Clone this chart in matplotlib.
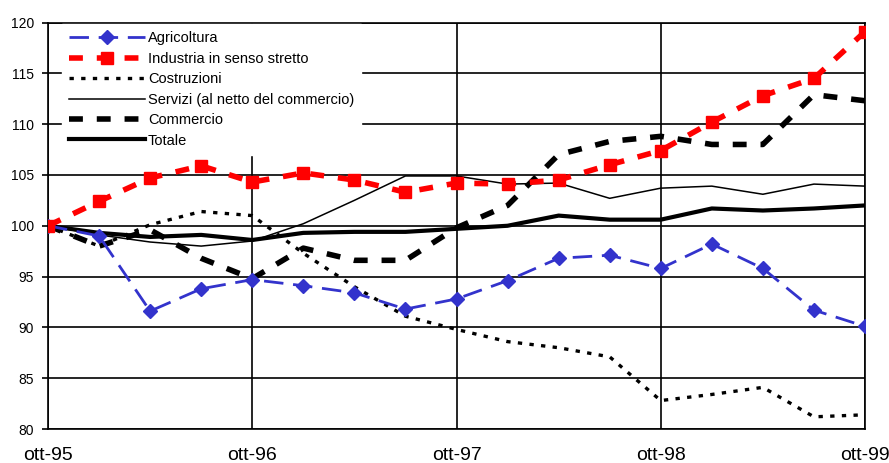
import matplotlib
matplotlib.use("Agg")
import matplotlib.pyplot as plt

plt.rcParams["font.family"] = ["Liberation Sans", "DejaVu Sans"]

# quarterly index, Oct 1995 = 100
periodi = ["ott-95", "gen-96", "apr-96", "lug-96",
           "ott-96", "gen-97", "apr-97", "lug-97",
           "ott-97", "gen-98", "apr-98", "lug-98",
           "ott-98", "gen-99", "apr-99", "lug-99", "ott-99"]

agricoltura = [100.0, 99.0, 91.6, 93.8, 94.7, 94.1, 93.4, 91.8,
               92.8, 94.6, 96.8, 97.1, 95.8, 98.2, 95.8, 91.7, 90.1]
industria = [100.0, 102.4, 104.7, 105.9, 104.3, 105.2, 104.5, 103.3,
             104.2, 104.1, 104.5, 106.0, 107.4, 110.2, 112.8, 114.5, 119.1]
costruzioni = [100.0, 98.0, 100.1, 101.4, 101.0, 97.3, 94.0, 91.1,
               89.8, 88.6, 88.0, 87.1, 82.8, 83.4, 84.1, 81.2, 81.4]
servizi = [100.0, 99.1, 98.4, 98.0, 98.5, 100.2, 102.5, 104.9,
           104.9, 104.1, 104.2, 102.7, 103.7, 103.9, 103.1, 104.1, 103.9]
commercio = [100.0, 98.0, 99.6, 96.8, 94.8, 97.8, 96.6, 96.6,
             99.8, 102.0, 107.0, 108.3, 108.8, 108.0, 108.0, 112.9, 112.3]
totale = [100.0, 99.3, 98.9, 99.1, 98.6, 99.3, 99.4, 99.4,
          99.7, 100.0, 101.0, 100.6, 100.6, 101.7, 101.5, 101.7, 102.0]

x = list(range(len(periodi)))
tick_pos = x[::4]
tick_lab = periodi[::4]

fig = plt.figure(figsize=(8.89, 4.63), dpi=100)
ax = fig.add_axes([0.054, 0.0734, 0.919, 0.878])

ax.plot(x, agricoltura, color="#3333CC", lw=2, dashes=(7, 3.5),
        marker="D", markersize=7.5, label="Agricoltura", zorder=5)
ax.plot(x, industria, color="#FF0000", lw=4, dashes=(2.5, 2.5),
        marker="s", markersize=8, label="Industria in senso stretto", zorder=5)
ax.plot(x, costruzioni, color="black", lw=2.4, dashes=(1.3, 2.2),
        label="Costruzioni", zorder=4)
ax.plot(x, servizi, color="black", lw=1.1, label="Servizi (al netto del commercio)",
        zorder=4)
ax.plot(x, commercio, color="black", lw=4, dashes=(2.5, 2.5),
        label="Commercio", zorder=4)
ax.plot(x, totale, color="black", lw=3, label="Totale", zorder=4)

ax.set_xlim(0, 16)
ax.set_ylim(80, 120)
ax.set_yticks(range(80, 121, 5))
ax.set_xticks(tick_pos)
ax.set_xticklabels(tick_lab)

ax.grid(True, color="black", lw=1.2, zorder=1)
ax.set_axisbelow(True)
for s in ax.spines.values():
    s.set_linewidth(1.2)

ax.tick_params(axis="y", labelsize=10, length=4, width=1.2, pad=6)
ax.tick_params(axis="x", labelsize=14, length=0, pad=13)

leg = ax.legend(loc="upper left", bbox_to_anchor=(0.017, 0.996), frameon=True,
                fontsize=10.5, handlelength=5.2, handletextpad=0.2,
                labelspacing=0.44, borderaxespad=0.0, borderpad=0.5)
leg.get_frame().set_facecolor("white")
leg.get_frame().set_edgecolor("white")
leg.get_frame().set_alpha(1)
leg.get_frame().set_boxstyle("square", pad=0)

fig.savefig("out.png", dpi=100)
